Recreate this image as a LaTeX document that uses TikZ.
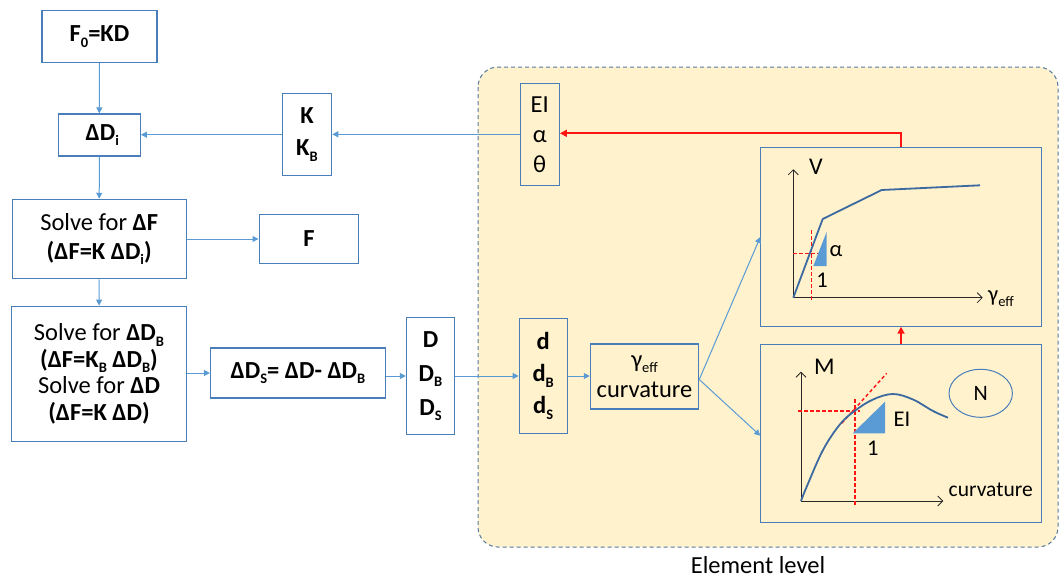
\documentclass[tikz,border=0pt]{standalone}
\usepackage{fontspec}
\setmainfont{Carlito}
\usetikzlibrary{arrows.meta,shapes.geometric}
\definecolor{boxc}{RGB}{74,126,187}
\definecolor{arrc}{RGB}{91,155,213}
\definecolor{curvc}{RGB}{60,105,160}
\definecolor{regfill}{RGB}{255,242,204}
\definecolor{regdraw}{RGB}{84,120,160}
\definecolor{redc}{RGB}{255,20,20}
\definecolor{axc}{RGB}{40,40,40}
\newcommand\sbs[1]{\raisebox{-0.22em}{\fontsize{14.5}{14.5}\selectfont #1}}
\tikzset{
  bx/.style={draw=boxc, line width=1.1pt, inner sep=0pt, align=center},
  bsize/.style 2 args={minimum width=#1pt, minimum height=#2pt},
  fnt/.style={font=\fontsize{24.5}{#1}\selectfont},
  arr/.style={draw=arrc, line width=1pt, -{Triangle[length=6pt,width=6pt]}},
  redarr/.style={draw=redc, line width=2pt, -{Triangle[length=7pt,width=7pt]}},
  axis/.style={draw=axc, line width=0.8pt, -{Straight Barb[length=5pt,width=10pt]}},
  curv/.style={draw=curvc, line width=1.8pt},
  rdash/.style={draw=redc, line width=1.4pt, dash pattern=on 3.5pt off 2.5pt},
  lbl/.style={font=\fontsize{22.5}{24}\selectfont, inner sep=0pt},
}
\begin{document}
\begin{tikzpicture}[x=1pt,y=-1pt]
\useasboundingbox (0,0) rectangle (1062,578);
% element region
\draw[fill=regfill, draw=regdraw, line width=1pt, dash pattern=on 4pt off 3pt, rounded corners=20pt]
  (478,67) rectangle (1058,547);
\node[fnt=29, anchor=base, inner sep=0pt] (elev) at (758,573) {Element level};

% left column
\node[bx, bsize={115}{52}, fnt=29] (f0) at (99.5,36.5) {\bfseries F\sbs{0}=KD};
\node[bx, bsize={82}{42}, fnt=29] (ddi) at (99.3,135) {\hspace*{6pt}\bfseries ΔD\sbs{i}};
\node[bx, bsize={49.4}{82}, fnt=32] (kk) at (307,134.7) {\bfseries K\\\bfseries K\sbs{B}};
\node[bx, bsize={174.3}{79.4}, fnt=29] (sf) at (99.2,239) {Solve for \textbf{ΔF}\\\textbf{(ΔF=K ΔD\sbs{i})}};
\node[bx, bsize={99.7}{48.7}, fnt=29] (ff) at (308.9,238.7) {\bfseries F};
\node[bx, bsize={175}{135.7}, fnt=26.5] (sdb) at (99,374) {Solve for \textbf{ΔD\sbs{B}}\\\textbf{(ΔF=K\sbs{B} ΔD\sbs{B})}\\Solve for \textbf{ΔD}\\\textbf{(ΔF=K ΔD)}};
\node[bx, bsize={175}{50}, fnt=29] (dds) at (298,373) {\bfseries ΔD\sbs{S}= ΔD- ΔD\sbs{B}};
\node[bx, bsize={48.2}{116.3}, fnt=34] (dbig) at (430.5,376) {\bfseries D\\\bfseries D\sbs{B}\\\bfseries D\sbs{S}};

% element-level boxes
\node[bx, bsize={39.3}{102}, fnt=30] (ei) at (539.7,134.3) {EI\\α\\θ};
\node[bx, bsize={48}{115.7}, fnt=32] (dsm) at (543.2,376) {\bfseries d\\\bfseries d\sbs{B}\\\bfseries d\sbs{S}};
\node[bx, bsize={108.4}{65}, fnt=30] (gam) at (644.5,376.5) {γ\sbs{eff}\\curvature};
\node[bx, bsize={280.3}{178.3}] (vbox) at (901,237) {};
\node[bx, bsize={280.3}{178}] (mbox) at (901,433.7) {};

% connectors
\draw[arr] (f0) -- (ddi);
\draw[arr] (ddi) -- (sf);
\draw[arr] (sf) -- (sdb);
\draw[arr] (kk.west) -- (kk.west -| ddi.east);
\draw[arr] (ei.west) -- (ei.west -| kk.east);
\draw[arr] (sf.east) -- (sf.east -| ff.west);
\draw[arr] (sdb.east |- dds.west) -- (dds.west);
\draw[arr] (dds.east |- dbig.west) -- (dbig.west);
\draw[arr] (dbig.east) -- (dbig.east -| dsm.west);
\draw[arr] (dsm.east) -- (dsm.east -| gam.west);
\coordinate (gout) at ([yshift=-3pt]gam.east);
\coordinate (vin) at (vbox.west);
\coordinate (min) at ([yshift=-2pt]mbox.west);
\draw[arr] (gout) -- (vin);
\draw[arr] (gout) -- (min);
\draw[redarr] (vbox.north) |- ([yshift=1pt]ei.east);
\draw[redarr] (mbox.north) -- (vbox.south);

% V chart
\draw[axis] (793.3,297.7) -- (793.3,169.3);
\draw[axis] (793.3,297.7) -- (982.7,297.7);
\draw[rdash] (811.7,230) -- (811.7,301.7);
\draw[rdash] (793.3,253.3) -- (820,253.3);
\draw[curv, line join=round] (793.3,297.7) -- (822.7,219) -- (881.7,190) -- (980,185.3);
\fill[arrc] (813.3,266) -- (826.7,266) -- (826.7,231.7) -- cycle;
\node[lbl, font=\fontsize{24}{26}\selectfont] (vl) at (816,166.7) {V};
\node[lbl, anchor=west] (gl) at (988,299) {γ\sbs{eff}};
\node[lbl] (al) at (836,250.7) {α};
\node[lbl] (one1) at (822,280) {1};

% M chart
\draw[axis] (801,501) -- (801,371.7);
\draw[axis] (801,501) -- (943.3,501);
\draw[rdash] (855,399.3) -- (855,506.7);
\draw[rdash] (798,411) -- (860,411);
\draw[rdash] (841.7,423.3) -- (886.7,373.3);
\draw[curv] plot[smooth, tension=0.6] coordinates {(801,501) (807,486) (823,450) (840,424.3) (855,410.7) (873,399.5) (893,394) (913,399.5) (933,411) (948,417.7)};
\fill[arrc] (852.7,433.3) -- (885,433.3) -- (885,401.7) -- cycle;
\node[lbl, font=\fontsize{24}{26}\selectfont] (ml) at (824.3,366.7) {M};
\node[lbl, font=\fontsize{21.5}{24}\selectfont] (cl) at (990.7,489.3) {curvature};
\node[lbl] (eil) at (902,419.3) {EI};
\node[lbl] (one2) at (872.7,448.3) {1};
\node[draw=boxc, line width=1pt, ellipse, minimum width=63.4pt, minimum height=48pt, inner sep=0pt, font=\fontsize{22}{24}\selectfont] (nn) at (980.7,393.3) {N};
\end{tikzpicture}
\end{document}
